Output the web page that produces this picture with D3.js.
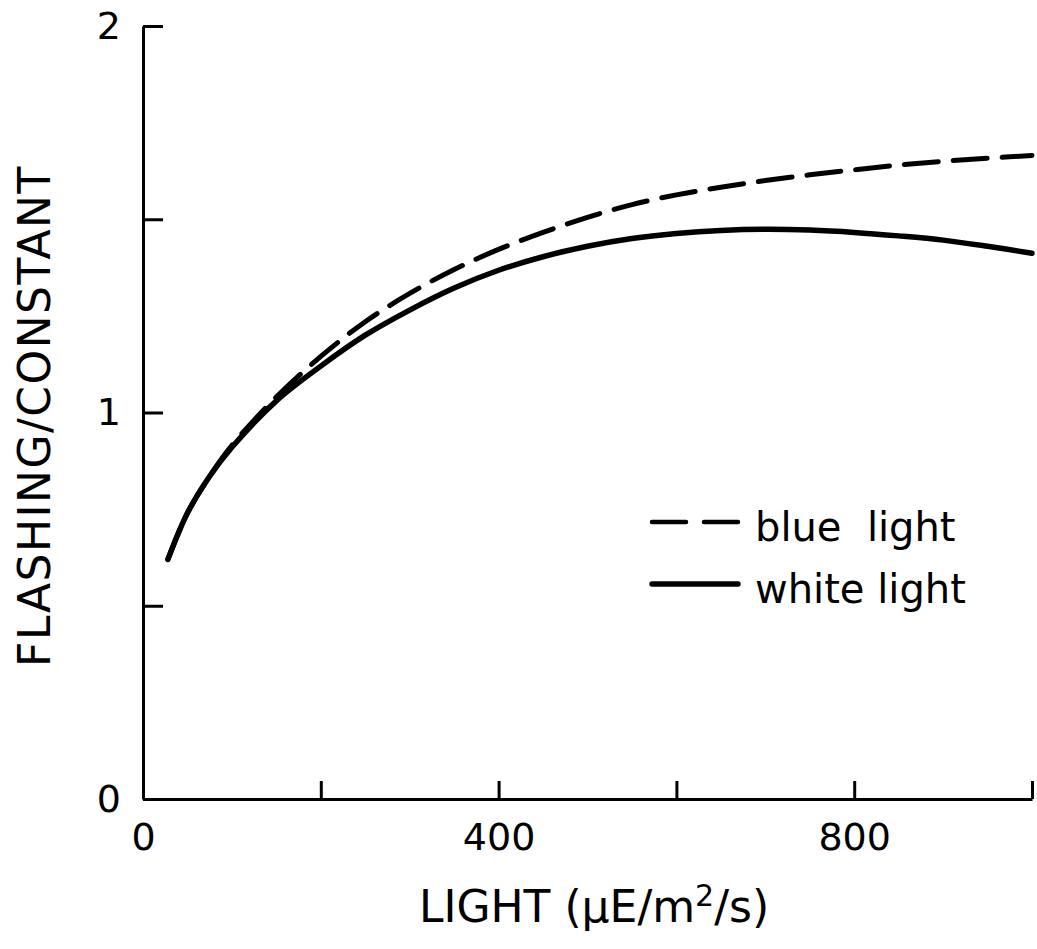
<!DOCTYPE html>
<html>
<head>
<meta charset="utf-8">
<script src="https://cdn.jsdelivr.net/npm/d3@7"></script>
<style>
  html, body { margin: 0; padding: 0; background: #fff; }
  svg { display: block; }
  text { font-family: "DejaVu Sans", sans-serif; fill: #000; }
</style>
</head>
<body>
<div id="chart"></div>
<script>
// Light intensity (µE/m²/s) at which the curves were read
const lightLevels = [28, 50, 75, 100, 150, 200, 250, 300, 350, 400, 450, 500,
  550, 600, 650, 700, 750, 800, 850, 900, 950, 1000];

// Flashing / constant ratio, white light (solid)
const whiteLight = [0.62, 0.74, 0.835, 0.91, 1.03, 1.12, 1.20, 1.265, 1.322, 1.368, 1.403, 1.430,
  1.450, 1.463, 1.471, 1.474, 1.472, 1.466, 1.457, 1.446, 1.430, 1.412];

// Flashing / constant ratio, blue light (dashed)
const blueLight = [0.62, 0.74, 0.835, 0.915, 1.04, 1.145, 1.235, 1.308, 1.370, 1.422, 1.466, 1.505,
  1.538, 1.563, 1.583, 1.600, 1.615, 1.628, 1.640, 1.650, 1.658, 1.665];

const xTicks = [0, 200, 400, 600, 800, 1000];
const xTickLabels = { 0: '0', 400: '400', 800: '800' };
const yTicks = [0, 0.5, 1, 1.5, 2];
const yTickLabels = { 0: '0', 1: '1', 2: '2' };

const legendItems = [
  { label: 'blue\u00a0\u00a0light', dashed: true },
  { label: 'white light', dashed: false }
];

const width = 1037;
const height = 949;

const svg = d3.select('#chart')
  .append('svg')
  .attr('width', width)
  .attr('height', height);

const x = d3.scaleLinear().domain([0, 1000]).range([143, 1032]);
const y = d3.scaleLinear().domain([0, 2]).range([799, 26]);

// axes, ticks point inwards
const xAxis = d3.axisBottom(x)
  .tickValues(xTicks)
  .tickSizeInner(-18)
  .tickSizeOuter(0)
  .tickPadding(24)
  .tickFormat(d => xTickLabels[d] || '');

const yAxis = d3.axisLeft(y)
  .tickValues(yTicks)
  .tickSizeInner(-20)
  .tickSizeOuter(0)
  .tickPadding(22)
  .tickFormat(d => yTickLabels[d] || '');

const gx = svg.append('g')
  .attr('transform', `translate(0,${y(0)})`)
  .call(xAxis);

const gy = svg.append('g')
  .attr('transform', `translate(${x(0)},0)`)
  .call(yAxis);

[gx, gy].forEach(g => {
  g.select('.domain').attr('stroke', '#000').attr('stroke-width', 3);
  g.selectAll('.tick line').attr('stroke', '#000').attr('stroke-width', 3);
  g.selectAll('.tick text')
    .style('font-family', '"DejaVu Sans", sans-serif')
    .style('font-size', '38px')
    .attr('fill', '#000');
});

// axis titles
const xTitle = svg.append('text')
  .attr('x', 594)
  .attr('y', 922)
  .attr('text-anchor', 'middle')
  .style('font-size', '44px');
xTitle.append('tspan').text('LIGHT (\u03bcE/m');
xTitle.append('tspan').attr('dy', -16).style('font-size', '30px').text('2');
xTitle.append('tspan').attr('dy', 16).text('/s)');

svg.append('text')
  .attr('transform', 'translate(50,416) rotate(-90)')
  .attr('text-anchor', 'middle')
  .style('font-size', '44px')
  .style('letter-spacing', '1.5px')
  .text('FLASHING/CONSTANT');

// curves
const line = d3.line()
  .x(d => x(d[0]))
  .y(d => y(d[1]))
  .curve(d3.curveCatmullRom.alpha(0.5));

svg.append('path')
  .datum(lightLevels.map((l, i) => [l, blueLight[i]]))
  .attr('fill', 'none')
  .attr('stroke', '#000')
  .attr('stroke-width', 5)
  .attr('stroke-linecap', 'round')
  .attr('stroke-dasharray', '34,15')
  .attr('d', line);

svg.append('path')
  .datum(lightLevels.map((l, i) => [l, whiteLight[i]]))
  .attr('fill', 'none')
  .attr('stroke', '#000')
  .attr('stroke-width', 5.5)
  .attr('stroke-linecap', 'round')
  .attr('d', line);

// legend
const legend = svg.append('g').attr('transform', 'translate(650,522)');

legendItems.forEach((item, i) => {
  const row = legend.append('g').attr('transform', `translate(0,${i * 62})`);
  row.append('line')
    .attr('x1', 2).attr('x2', 88)
    .attr('y1', 0).attr('y2', 0)
    .attr('stroke', '#000')
    .attr('stroke-width', item.dashed ? 4.5 : 5.5)
    .attr('stroke-linecap', 'round')
    .attr('stroke-dasharray', item.dashed ? '34,18' : null);
  row.append('text')
    .attr('x', 105)
    .attr('y', 19)
    .style('font-size', '40px')
    .text(item.label);
});
</script>
</body>
</html>
